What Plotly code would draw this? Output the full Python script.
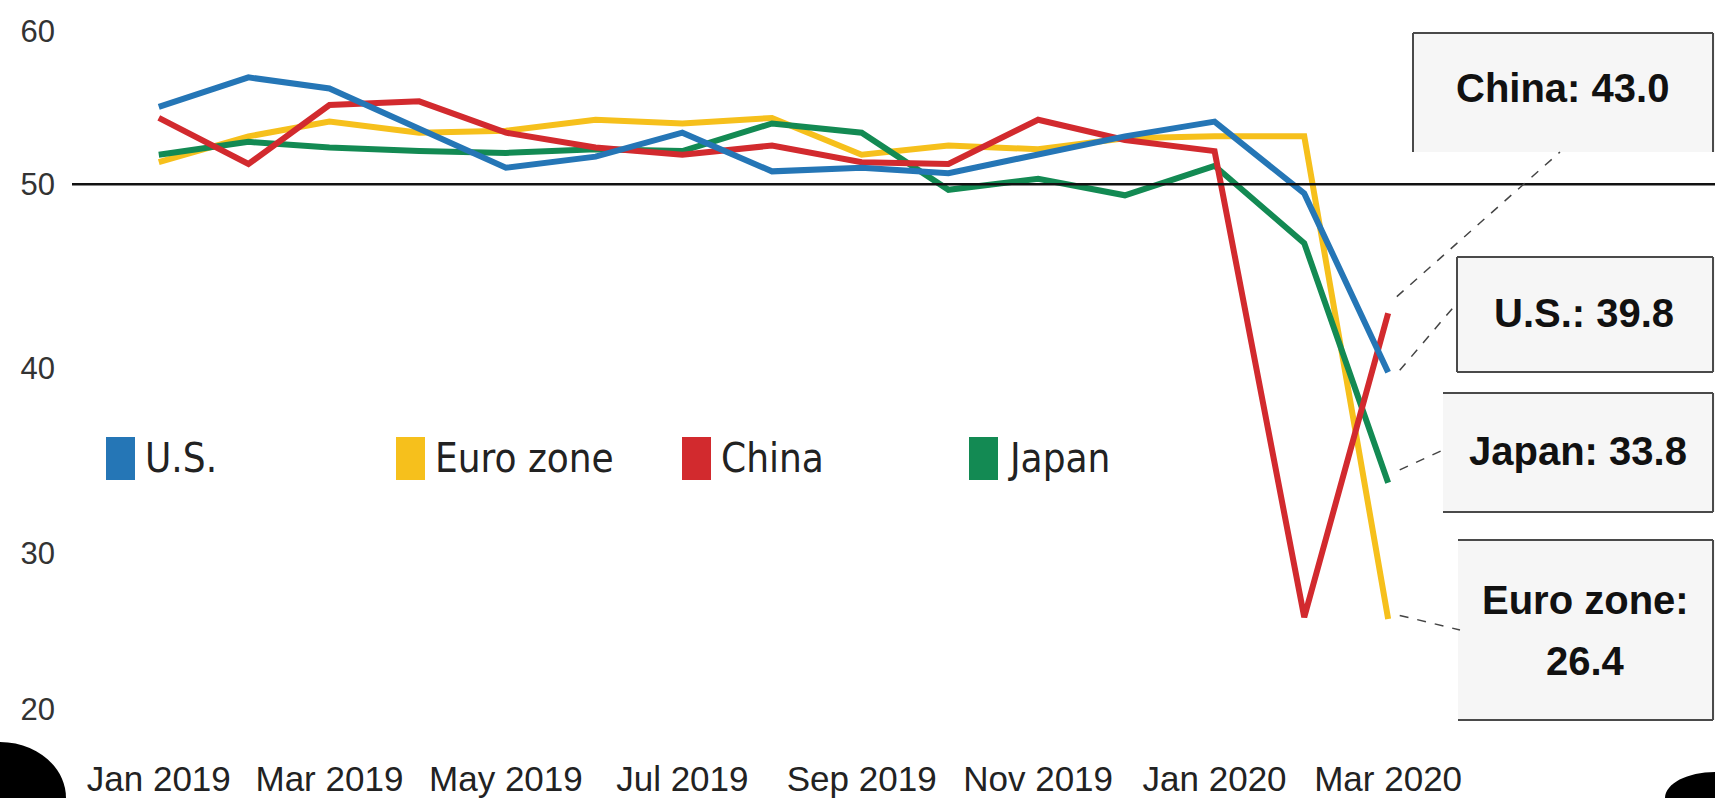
import pandas as pd
import plotly.graph_objects as go

# ---------------- data ----------------
months = ["2019-01-01", "2019-02-01", "2019-03-01", "2019-04-01", "2019-05-01",
          "2019-06-01", "2019-07-01", "2019-08-01", "2019-09-01", "2019-10-01",
          "2019-11-01", "2019-12-01", "2020-01-01", "2020-02-01", "2020-03-01"]

us =    [54.2, 55.8, 55.2, 53.0, 50.9, 51.5, 52.8, 50.7, 50.9, 50.6, 51.6, 52.6, 53.4, 49.5, 39.8]
euro =  [51.2, 52.6, 53.4, 52.8, 52.9, 53.5, 53.3, 53.6, 51.6, 52.1, 51.9, 52.5, 52.6, 52.6, 26.4]
china = [53.6, 51.1, 54.3, 54.5, 52.8, 52.0, 51.6, 52.1, 51.2, 51.1, 53.5, 52.4, 51.8, 26.5, 43.0]
japan = [51.6, 52.3, 52.0, 51.8, 51.7, 51.9, 51.8, 53.3, 52.8, 49.7, 50.3, 49.4, 51.0, 46.8, 33.8]

series_names = ["U.S.", "Euro zone", "China", "Japan"]
series_values = [us, euro, china, japan]
series_colors = ["#2576b6", "#f6c01c", "#d22a2e", "#138a53"]

tick_months = months[0::2]
y_tick_vals = [58.3, 50, 40, 30, 21.5]   # end labels sit inside the frame, as in the source
y_tick_text = ["60", "50", "40", "30", "20"]

callout_text = {"China": "China: 43.0", "U.S.": "U.S.: 39.8", "Japan": "Japan: 33.8",
                "Euro zone": ["Euro zone:", "26.4"]}

# ---------------- layout geometry (pixels) ----------------
W, H = 1715, 798
PL, PR, PT, PB = 72, 1715, 0, 737
X0, X1 = pd.Timestamp("2018-12-02"), pd.Timestamp("2020-06-22")
Y0, Y1 = 20, 60


def fx(px):
    return (px - PL) / (PR - PL)


def fy(py):
    return (PB - py) / (PB - PT)


def px_to_date(px):
    return (X0 + (X1 - X0) * ((px - PL) / (PR - PL))).strftime("%Y-%m-%d %H:%M:%S")


def py_to_val(py):
    return Y1 - (py - PT) / (PB - PT) * (Y1 - Y0)


fig = go.Figure()

draw_order = [1, 3, 2, 0]
for i in draw_order:
    fig.add_trace(go.Scatter(x=months, y=series_values[i], mode="lines",
                             name=series_names[i], showlegend=False,
                             line=dict(color=series_colors[i], width=6)))

shapes = []
annotations = []

# reference line at 50
shapes.append(dict(type="line", xref="paper", yref="y", x0=0, x1=1, y0=50, y1=50,
                   line=dict(color="#111111", width=2.5), layer="above"))

# call-out boxes: (left, top, right, bottom, sides)
boxes = {
    "China": (1413, 33, 1713, 152, "ltr"),
    "U.S.": (1457, 257, 1713, 372, "ltrb"),
    "Japan": (1443, 393, 1713, 512, "trb"),
    "Euro zone": (1458, 540, 1713, 720, "trb"),
}
for name, (l, t, r, b, sides) in boxes.items():
    shapes.append(dict(type="rect", xref="paper", yref="paper",
                       x0=fx(l), x1=fx(W + 2), y0=fy(b), y1=fy(t),
                       fillcolor="#f6f6f6", line=dict(width=0), layer="above"))
    segs = []
    if "l" in sides:
        segs.append(((l, t), (l, b)))
    if "t" in sides:
        segs.append(((l, t), (r, t)))
    if "r" in sides:
        segs.append(((r, t), (r, b)))
    if "b" in sides:
        segs.append(((l, b), (r, b)))
    for (a, c), (d, e) in segs:
        shapes.append(dict(type="line", xref="paper", yref="paper",
                           x0=fx(a), y0=fy(c), x1=fx(d), y1=fy(e),
                           line=dict(color="#4a4a4a", width=2), layer="above"))

# leader lines from the latest value to each box
last = pd.Timestamp(months[-1])
leaders = {
    "China": (3, 0.9, 1560, 152),
    "U.S.": (4, 0.1, 1457, 303),
    "Japan": (4, 0.7, 1443, 450),
    "Euro zone": (4, 0.2, 1460, 630),
}
for name, (dd, dv, ex, ey) in leaders.items():
    v = series_values[series_names.index(name)][-1]
    shapes.append(dict(type="line", xref="x", yref="y",
                       x0=(last + pd.Timedelta(days=dd)).strftime("%Y-%m-%d"), y0=v + dv,
                       x1=px_to_date(ex), y1=py_to_val(ey),
                       line=dict(color="#444444", width=1.5, dash="dash"), layer="above"))

box_font = dict(family="Liberation Sans, Arial, sans-serif", size=40, color="#111111")
text_pos = {"China": (1562, 88), "U.S.": (1584, 313), "Japan": (1578, 451)}
for name, (cx, cy) in text_pos.items():
    annotations.append(dict(xref="paper", yref="paper", x=fx(cx), y=fy(cy),
                            text="<b>" + callout_text[name] + "</b>", showarrow=False,
                            xanchor="center", yanchor="middle", font=box_font))
for line_text, cy in zip(callout_text["Euro zone"], [600, 661]):
    annotations.append(dict(xref="paper", yref="paper", x=fx(1585), y=fy(cy),
                            text="<b>" + line_text + "</b>", showarrow=False,
                            xanchor="center", yanchor="middle", font=box_font))

# legend (tall colour swatches + condensed labels)
legend_x = [106, 396, 682, 969]
legend_font = dict(family="Liberation Sans Narrow, Arial Narrow, DejaVu Sans Condensed, Liberation Sans, sans-serif",
                   size=40, color="#222222")
for name, color, lx in zip(series_names, series_colors, legend_x):
    shapes.append(dict(type="rect", xref="paper", yref="paper",
                       x0=fx(lx), x1=fx(lx + 29), y0=fy(480), y1=fy(437),
                       fillcolor=color, line=dict(width=0), layer="above"))
    annotations.append(dict(xref="paper", yref="paper", x=fx(lx + 37), y=fy(458),
                            text=name, showarrow=False, xanchor="left", yanchor="middle",
                            font=legend_font))

# dark rounded corners of the photographed screen (quarter discs)
k = 0.5523
bl_rx, bl_ry = 66, 56
bl = (f"M {fx(-3)},{fy(H - bl_ry)} L {fx(0)},{fy(H - bl_ry)} "
      f"C {fx(k * bl_rx)},{fy(H - bl_ry)} {fx(bl_rx)},{fy(H - k * bl_ry)} {fx(bl_rx)},{fy(H)} "
      f"L {fx(bl_rx)},{fy(H + 3)} L {fx(-3)},{fy(H + 3)} Z")
br_rx, br_ry = 50, 26
br = (f"M {fx(W + 3)},{fy(H - br_ry)} L {fx(W)},{fy(H - br_ry)} "
      f"C {fx(W - k * br_rx)},{fy(H - br_ry)} {fx(W - br_rx)},{fy(H - k * br_ry)} {fx(W - br_rx)},{fy(H)} "
      f"L {fx(W - br_rx)},{fy(H + 3)} L {fx(W + 3)},{fy(H + 3)} Z")
for p in (bl, br):
    shapes.append(dict(type="path", xref="paper", yref="paper", path=p,
                       fillcolor="#000000", line=dict(width=0), layer="above"))

fig.update_layout(
    width=W, height=H,
    margin=dict(l=PL, r=W - PR, t=PT, b=H - PB, pad=0, autoexpand=False),
    paper_bgcolor="#ffffff", plot_bgcolor="#ffffff",
    showlegend=False,
    shapes=shapes, annotations=annotations,
    xaxis=dict(type="date", range=[X0.strftime("%Y-%m-%d"), X1.strftime("%Y-%m-%d")],
               tickvals=tick_months, tickformat="%b %Y", automargin=False,
               showgrid=False, zeroline=False, showline=False, ticks="",
               tickfont=dict(family="Liberation Sans, Arial, sans-serif", size=35, color="#222222"),
               ticklabelstandoff=18),
    yaxis=dict(range=[Y0, Y1], tickvals=y_tick_vals, ticktext=y_tick_text, automargin=False,
               showgrid=False, zeroline=False, showline=False, ticks="",
               tickfont=dict(family="Liberation Sans, Arial, sans-serif", size=31, color="#333333"),
               ticklabelstandoff=16),
)

# the page's default body margin would shift the figure by 8 px; remove it
fig.write_html("out.html", config={"displayModeBar": False},
               post_script="document.body.style.margin='0';")
